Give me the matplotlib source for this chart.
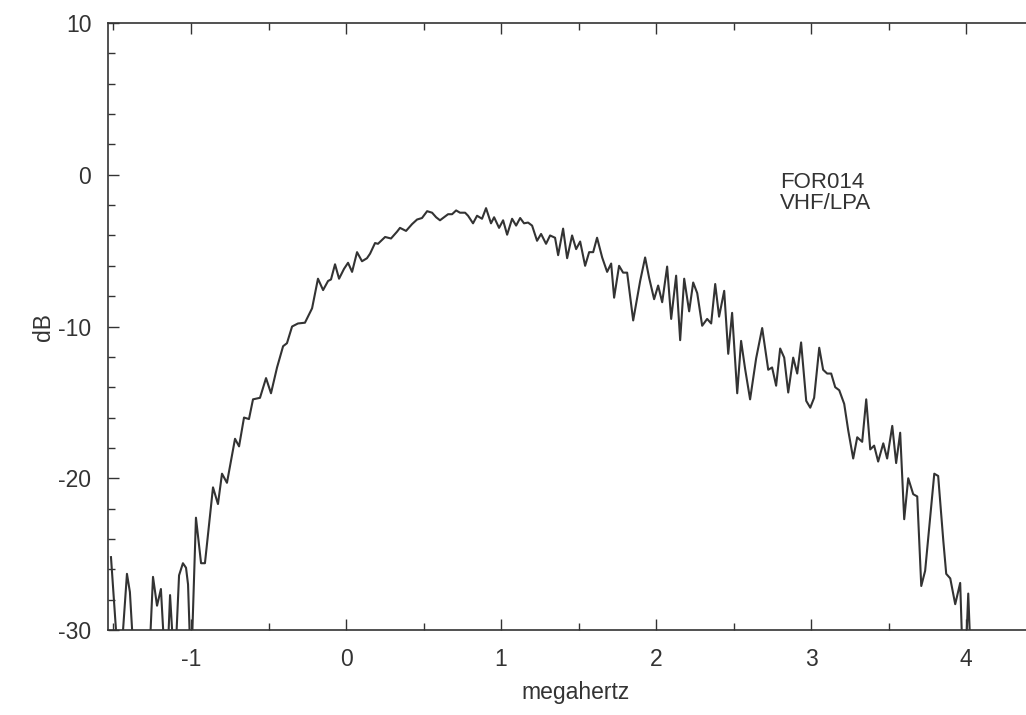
import matplotlib
matplotlib.use("Agg")
import matplotlib.pyplot as plt
from matplotlib.ticker import MultipleLocator

plt.rcParams['font.family'] = ['Liberation Sans', 'DejaVu Sans']
plt.rcParams['axes.unicode_minus'] = False

# frequency offset (MHz) and level (dB); values below -30 are clipped
freq_mhz = [
    -1.516, -1.477, -1.458, -1.445, -1.413, -1.394, -1.374, -1.265, -1.245, -1.219,
    -1.194, -1.174, -1.148, -1.135, -1.116, -1.097, -1.077, -1.052, -1.032, -1.019,
    -1.006, -0.994, -0.968, -0.935, -0.910, -0.858, -0.826, -0.800, -0.768, -0.716,
    -0.690, -0.658, -0.626, -0.600, -0.555, -0.516, -0.484, -0.445, -0.406, -0.381,
    -0.348, -0.310, -0.265, -0.219, -0.181, -0.148, -0.116, -0.097, -0.071, -0.045,
    -0.013, 0.013, 0.039, 0.071, 0.103, 0.135, 0.155, 0.187, 0.206, 0.252,
    0.290, 0.329, 0.348, 0.387, 0.426, 0.458, 0.490, 0.523, 0.555, 0.581,
    0.606, 0.639, 0.658, 0.684, 0.710, 0.735, 0.768, 0.787, 0.819, 0.845,
    0.877, 0.903, 0.935, 0.955, 0.987, 1.013, 1.039, 1.071, 1.097, 1.123,
    1.148, 1.174, 1.200, 1.232, 1.258, 1.290, 1.316, 1.348, 1.368, 1.400,
    1.426, 1.458, 1.484, 1.510, 1.542, 1.568, 1.594, 1.619, 1.652, 1.684,
    1.710, 1.729, 1.761, 1.787, 1.813, 1.852, 1.897, 1.929, 1.955, 1.987,
    2.013, 2.039, 2.071, 2.097, 2.129, 2.155, 2.181, 2.213, 2.239, 2.265,
    2.297, 2.329, 2.355, 2.381, 2.406, 2.439, 2.465, 2.490, 2.523, 2.548,
    2.574, 2.606, 2.645, 2.684, 2.723, 2.748, 2.774, 2.800, 2.826, 2.852,
    2.884, 2.910, 2.935, 2.968, 2.994, 3.019, 3.052, 3.077, 3.103, 3.129,
    3.155, 3.181, 3.213, 3.239, 3.271, 3.297, 3.329, 3.355, 3.381, 3.406,
    3.432, 3.465, 3.490, 3.523, 3.548, 3.574, 3.600, 3.626, 3.658, 3.684,
    3.710, 3.735, 3.768, 3.794, 3.819, 3.852, 3.871, 3.897, 3.929, 3.961,
    3.974, 4.000, 4.013, 4.026,
]
level_db = [
    -25.2, -31.0, -31.0, -31.0, -26.3, -27.5, -31.0, -31.0, -26.5, -28.4,
    -27.3, -31.0, -31.0, -27.7, -31.0, -31.0, -26.4, -25.6, -25.9, -27.0,
    -31.0, -31.0, -22.6, -25.6, -25.6, -20.6, -21.7, -19.7, -20.3, -17.4,
    -17.9, -16.0, -16.1, -14.8, -14.7, -13.4, -14.4, -12.7, -11.3, -11.1,
    -10.0, -9.8, -9.75, -8.8, -6.85, -7.6, -7.0, -6.9, -5.9, -6.85,
    -6.2, -5.8, -6.4, -5.1, -5.7, -5.5, -5.2, -4.5, -4.55, -4.1,
    -4.2, -3.75, -3.5, -3.7, -3.25, -2.95, -2.85, -2.4, -2.5, -2.8,
    -3.0, -2.75, -2.6, -2.6, -2.35, -2.5, -2.5, -2.7, -3.2, -2.7,
    -2.9, -2.2, -3.2, -2.8, -3.5, -3.0, -3.95, -2.9, -3.35, -2.85,
    -3.2, -3.15, -3.35, -4.35, -3.9, -4.55, -4.0, -4.15, -5.3, -3.55,
    -5.5, -4.0, -4.9, -4.4, -6.0, -5.1, -5.1, -4.15, -5.45, -6.4,
    -5.85, -8.1, -6.0, -6.45, -6.45, -9.6, -7.0, -5.45, -6.8, -8.2,
    -7.3, -8.4, -6.05, -9.5, -6.65, -10.9, -6.85, -9.0, -7.1, -7.8,
    -9.95, -9.5, -9.8, -7.2, -9.35, -7.65, -11.8, -9.1, -14.4, -10.95,
    -12.8, -14.8, -12.1, -10.1, -12.85, -12.7, -13.9, -11.45, -12.05, -14.35,
    -12.05, -13.1, -11.05, -14.9, -15.35, -14.7, -11.4, -12.85, -13.1, -13.1,
    -14.0, -14.2, -15.1, -16.85, -18.7, -17.3, -17.6, -14.8, -18.1, -17.85,
    -18.9, -17.7, -18.7, -16.55, -19.0, -17.0, -22.7, -20.0, -21.05, -21.2,
    -27.1, -26.1, -22.5, -19.7, -19.85, -24.1, -26.3, -26.6, -28.3, -26.9,
    -31.0, -31.0, -27.6, -31.0,
]

ink = "#333333"

fig = plt.figure(figsize=(10.26, 7.15), dpi=100)
# the scan cuts the frame off on the right, so the axes run past the edge
ax = fig.add_axes([0.1053, 0.1189, 0.912, 0.8489])
ax.plot(freq_mhz, level_db, color=ink, lw=1.5)

ax.set_xlim(-1.535, 4.5)
ax.set_ylim(-30, 10)
ax.xaxis.set_major_locator(MultipleLocator(1))
ax.xaxis.set_minor_locator(MultipleLocator(0.5))
ax.yaxis.set_major_locator(MultipleLocator(10))
ax.yaxis.set_minor_locator(MultipleLocator(2))
ax.tick_params(which="both", direction="in", top=True, right=True,
               color=ink, width=1.0, labelsize=16.5, labelcolor=ink)
ax.tick_params(which="major", length=8)
ax.tick_params(which="minor", length=5)
ax.tick_params(axis="y", pad=12)
ax.tick_params(axis="x", pad=13)
for sp in ax.spines.values():
    sp.set_color(ink)
    sp.set_linewidth(1.2)

ax.set_xlabel("megahertz", fontsize=16.5, color=ink, labelpad=7)
ax.set_ylabel("dB", fontsize=16.5, color=ink, labelpad=2)

ax.text(2.8, 0.15, "FOR014\nVHF/LPA", fontsize=16, color=ink,
        va="top", ha="left", linespacing=1.0)

fig.savefig("out.png", dpi=100)
